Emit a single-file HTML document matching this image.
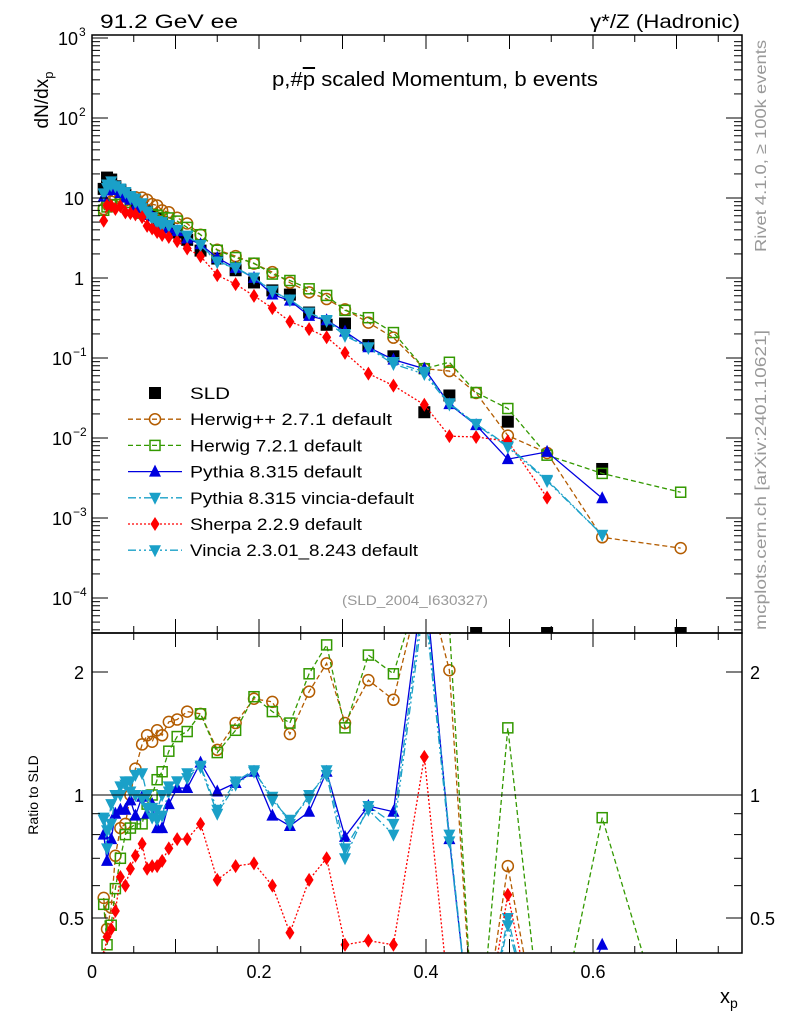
<!DOCTYPE html>
<html><head><meta charset="utf-8"><style>
html,body{margin:0;padding:0;background:#fff;width:786px;height:1024px;overflow:hidden;}
svg{display:block;font-family:"Liberation Sans",sans-serif;}
</style></head><body>
<svg id="chart" width="786" height="1024" viewBox="0 0 786 1024" xmlns="http://www.w3.org/2000/svg">
<g id="marks"></g>
<g id="axes"></g>
<text x="100" y="28" font-size="19" textLength="138" lengthAdjust="spacingAndGlyphs">91.2 GeV ee</text>
<text x="590" y="28" font-size="19" textLength="150" lengthAdjust="spacingAndGlyphs">γ*/Z (Hadronic)</text>
<text x="272" y="86" font-size="20" textLength="326" lengthAdjust="spacingAndGlyphs">p,#<tspan text-decoration="overline">p</tspan> scaled Momentum, b events</text>
<text transform="translate(48,100) rotate(-90)" font-size="19" text-anchor="middle">dN/dx<tspan font-size="13" dy="5">p</tspan></text>
<text transform="translate(38,795) rotate(-90)" font-size="14" text-anchor="middle">Ratio to SLD</text>
<text x="720" y="1003" font-size="20">x<tspan font-size="14" dy="5">p</tspan></text>
<text transform="translate(766,252) rotate(-90)" font-size="16" fill="#999" textLength="212" lengthAdjust="spacingAndGlyphs">Rivet 4.1.0, ≥ 100k events</text>
<text transform="translate(766,630) rotate(-90)" font-size="16" fill="#999" textLength="300" lengthAdjust="spacingAndGlyphs">mcplots.cern.ch [arXiv:2401.10621]</text>
<text x="342" y="605" font-size="14" fill="#999" textLength="146" lengthAdjust="spacingAndGlyphs">(SLD_2004_I630327)</text>
<g id="legend"></g>
</svg>
<script>
const xBins=[0.014,0.018,0.023,0.028,0.034,0.040,0.046,0.052,0.060,0.066,0.072,0.078,0.084,0.092,0.102,0.114,0.130,0.150,0.172,0.194,0.216,0.237,0.260,0.281,0.303,0.331,0.361,0.398,0.428,0.460,0.498,0.545,0.611,0.705];
const sldValues=[13,18,17,14,12.5,11,9.8,8.8,7.6,6.8,6.2,5.6,5.0,4.4,3.7,3.0,2.2,1.75,1.25,0.88,0.7,0.62,0.37,0.26,0.27,0.145,0.105,0.021,0.034,0,0.016,0,0.0041,0];
const herwigppRatio=[0.56,0.47,0.53,0.71,0.83,0.85,1.0,1.16,1.33,1.40,1.35,1.44,1.40,1.51,1.53,1.60,1.58,1.29,1.50,1.72,1.69,1.41,1.79,2.10,1.50,1.91,1.71,3.5,2.02,null,0.67,null,0.14,null];
const herwigppTail=[0.0365,0.0065,0.00042];
const herwig7Ratio=[0.54,0.43,0.48,0.59,0.70,0.80,0.83,0.85,0.85,0.95,1.0,1.09,1.14,1.28,1.39,1.43,1.58,1.27,1.44,1.74,1.60,1.50,1.98,2.33,1.46,2.20,1.98,3.5,2.6,null,1.46,null,0.88,null];
const herwig7Tail=[0.037,0.0061,0.0021];
const pythiaRatio=[0.80,0.69,0.78,0.90,0.92,0.92,0.97,0.89,0.99,0.90,0.95,0.83,0.83,0.95,1.04,1.04,1.20,1.02,1.07,1.14,0.89,0.84,0.91,1.14,0.79,0.94,0.91,3.5,0.78,null,0.34,null,0.43,null];
const pythiaTail=[0.0145,0.0067,null];
const pythiaVinciaRatio=[0.88,0.82,0.95,1.0,1.05,1.08,1.02,1.0,0.98,0.93,0.88,0.87,0.89,1.02,1.08,1.13,1.17,0.90,1.06,1.14,0.99,0.85,1.00,1.12,0.70,0.94,0.85,3.2,0.80,null,0.50,null,0.15,null];
const pythiaVinciaTail=[0.015,0.003,null];
const sherpaRatio=[0.40,0.45,0.47,0.52,0.63,0.60,0.66,0.71,0.76,0.66,0.67,0.67,0.69,0.74,0.78,0.78,0.85,0.62,0.67,0.68,0.60,0.46,0.62,0.70,0.43,0.44,0.43,1.24,0.31,null,0.57,null,null,null];
const sherpaTail=[0.0103,0.0018,null];
const vinciaRatio=[0.87,0.74,0.85,1.0,1.0,1.06,1.08,1.12,1.13,1.0,0.93,0.92,1.0,1.05,1.08,1.10,1.18,0.92,1.08,1.15,0.97,0.87,0.98,1.15,0.74,0.92,0.80,3.0,0.77,null,0.48,null,0.15,null];
const vinciaTail=[0.0148,0.0029,null];
const tailBins=[29,31,33];
const legendLabels=["SLD","Herwig++ 2.7.1 default","Herwig 7.2.1 default","Pythia 8.315 default","Pythia 8.315 vincia-default","Sherpa 2.2.9 default","Vincia 2.3.01_8.243 default"];
const legendWidths=[40,202,172,172,224,172,228];

const NS="http://www.w3.org/2000/svg";
const L=92,R=742,T=35,MB=633,RB=953;
const xs=v=>L+v*835;
const ys=v=>278-80*Math.log10(v);
const rs=v=>795-123*Math.log2(v);
function el(tag,attrs,parent){const e=document.createElementNS(NS,tag);for(const k in attrs)e.setAttribute(k,attrs[k]);parent.appendChild(e);return e;}
const marks=document.getElementById('marks'),axes=document.getElementById('axes'),legend=document.getElementById('legend');
const defs=el('defs',{},marks);
const c1=el('clipPath',{id:'cm'},defs);el('rect',{x:L,y:T,width:R-L,height:MB-T},c1);
const c2=el('clipPath',{id:'cr'},defs);el('rect',{x:L,y:MB,width:R-L,height:RB-MB},c2);
const gMain=el('g',{'clip-path':'url(#cm)'},marks);
const gRat=el('g',{'clip-path':'url(#cr)'},marks);

function marker(g,type,x,y,color,name){
  let m;const s=6;
  if(type==='sq') m=el('rect',{x:x-s,y:y-s,width:2*s,height:2*s,fill:'#000'},g);
  else if(type==='osq') m=el('rect',{x:x-s+1,y:y-s+1,width:2*s-2,height:2*s-2,fill:'none',stroke:color,'stroke-width':1.5},g);
  else if(type==='oc') m=el('circle',{cx:x,cy:y,r:s-0.5,fill:'none',stroke:color,'stroke-width':1.5},g);
  else if(type==='tu') m=el('polygon',{points:`${x},${y-s-1} ${x-s},${y+s-1} ${x+s},${y+s-1}`,fill:color},g);
  else if(type==='td') m=el('polygon',{points:`${x},${y+s+1} ${x-s},${y-s+1} ${x+s},${y-s+1}`,fill:color},g);
  else if(type==='dm') m=el('polygon',{points:`${x},${y-7} ${x-4.5},${y} ${x},${y+7} ${x+4.5},${y}`,fill:color},g);
  
  
  return m;
}
const series=[
 {name:'herwigpp',ratio:herwigppRatio,tail:herwigppTail,color:'#b35c00',mk:'oc',dash:'5,3'},
 {name:'herwig7',ratio:herwig7Ratio,tail:herwig7Tail,color:'#339900',mk:'osq',dash:'5,3'},
 {name:'pythia',ratio:pythiaRatio,tail:pythiaTail,color:'#0000e0',mk:'tu',dash:''},
 {name:'pythia-vincia',ratio:pythiaVinciaRatio,tail:pythiaVinciaTail,color:'#1aa0c8',mk:'td',dash:'8,3,2,3'},
 {name:'sherpa',ratio:sherpaRatio,tail:sherpaTail,color:'#ff0000',mk:'dm',dash:'2,2'},
 {name:'vincia',ratio:vinciaRatio,tail:vinciaTail,color:'#1aa0c8',mk:'td',dash:'8,3,2,3,2,3'}
];
sldValues.forEach((v,i)=>{const y=v>0?ys(v):MB;marker(gMain,'sq',xs(xBins[i]),y,'#000','sld-point');});
series.forEach(s=>{
  const main=[],rat=[];
  xBins.forEach((x,i)=>{
    let v=null;const ti=tailBins.indexOf(i);
    if(ti>=0)v=s.tail[ti];else if(s.ratio[i]!=null)v=s.ratio[i]*sldValues[i];
    if(v!=null)main.push([xs(x),ys(v)]);
    let r=s.ratio[i];
    if(ti>=0&&s.tail[ti]!=null)r=0.2;
    if(r!=null)rat.push([xs(x),rs(r)]);
  });
  [[gMain,main],[gRat,rat]].forEach(([g,pts],k)=>{
    const p=el('polyline',{points:pts.map(p=>p.join(',')).join(' '),fill:'none',stroke:s.color,'stroke-width':1.3},g);
    if(s.dash)p.setAttribute('stroke-dasharray',s.dash);
    
    
    pts.forEach(q=>marker(g,s.mk,q[0],q[1],s.color,s.name+'-point'));
  });
});
el('line',{x1:L,x2:R,y1:rs(1),y2:rs(1),stroke:'#000','stroke-width':1},gRat);
el('rect',{x:L,y:T,width:R-L,height:MB-T,fill:'none',stroke:'#000','stroke-width':1.5},axes);
el('rect',{x:L,y:MB,width:R-L,height:RB-MB,fill:'none',stroke:'#000','stroke-width':1.5},axes);
for(let k=0;k<=15;k++){const v=k*0.05;const x=xs(v);if(x>R)break;const len=k%2==0?14:7;
  [[T,1],[MB,-1],[MB,1],[RB,-1]].forEach(([y,d])=>el('line',{x1:x,x2:x,y1:y,y2:y+d*len,stroke:'#000'},axes));}
[0,0.2,0.4,0.6].forEach(v=>{const t=el('text',{x:xs(v),y:978,'font-size':18,'text-anchor':'middle'},axes);t.textContent=v===0?'0':String(v);
  });
const yLabels=[['3','10',3],['2','10',2],['','10',1],['','1',0],['−1','10',-1],['−2','10',-2],['−3','10',-3],['−4','10',-4]];
for(let e=-5;e<3;e++)for(let m=1;m<10;m++){const v=m*Math.pow(10,e);const y=ys(v);if(y<T||y>MB)continue;const len=m==1?16:8;
  el('line',{x1:L,x2:L+len,y1:y,y2:y,stroke:'#000'},axes);el('line',{x1:R,x2:R-len,y1:y,y2:y,stroke:'#000'},axes);}
el('line',{x1:L,x2:L+16,y1:ys(1000),y2:ys(1000),stroke:'#000'},axes);
yLabels.forEach(([sup,base,e])=>{const y=ys(Math.pow(10,e))+7;const t=el('text',{x:sup?(sup.length>1?72:78):84,y:y,'font-size':18,'text-anchor':'end'},axes);
  t.textContent=base;
  if(sup){const s=el('text',{x:sup.length>1?73:79,y:y-9,'font-size':12},axes);s.textContent=sup;}});
[0.5,0.6,0.7,0.8,0.9,1,2].forEach(v=>{const y=rs(v);const len=(v==1||v==2||v==0.5)?16:8;
  el('line',{x1:L,x2:L+len,y1:y,y2:y,stroke:'#000'},axes);el('line',{x1:R,x2:R-len,y1:y,y2:y,stroke:'#000'},axes);});
[['2',2],['1',1],['0.5',0.5]].forEach(([s,v])=>{[[84,'end'],[750,'start']].forEach(([x,a])=>{const t=el('text',{x:x,y:rs(v)+7,'font-size':18,'text-anchor':a},axes);t.textContent=s;
  });});
const legMk=[['sq','#000',''],['oc','#b35c00','5,3'],['osq','#339900','5,3'],['tu','#0000e0',''],['td','#1aa0c8','8,3,2,3'],['dm','#ff0000','2,2'],['td','#1aa0c8','8,3,2,3,2,3']];
legendLabels.forEach((lab,i)=>{const y=393+i*26.2;const g=el('g',{},legend);
  
  if(i>0){const l=el('line',{x1:128,x2:182,y1:y,y2:y,stroke:legMk[i][1],'stroke-width':1.3},g);if(legMk[i][2])l.setAttribute('stroke-dasharray',legMk[i][2]);}
  marker(g,legMk[i][0],155,y,legMk[i][1],'legend-marker');
  const t=el('text',{x:190,y:y+6,'font-size':17,textLength:legendWidths[i],lengthAdjust:'spacingAndGlyphs'},g);t.textContent=lab;});
</script>
</body></html>
